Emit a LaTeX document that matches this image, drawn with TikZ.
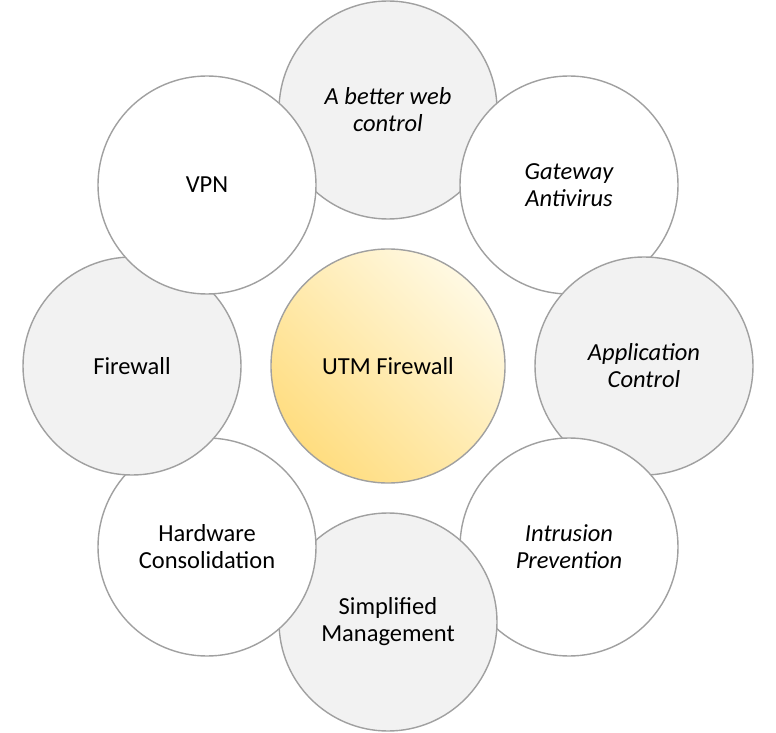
\documentclass[tikz,border=0pt]{standalone}
\usepackage{fontspec}
\setmainfont{Carlito}

\definecolor{bord}{HTML}{A0A0A0}
\definecolor{grisclair}{HTML}{F2F2F2}
\definecolor{jauneclair}{HTML}{FFF9E3}
\definecolor{jaunefonce}{HTML}{FFDD80}

\begin{document}
\begin{tikzpicture}[x=1pt,y=1pt,
  bulle/.style={circle,draw=bord,line width=1.4pt,minimum size=218pt,
    inner sep=0pt,align=center,font=\fontsize{24.5}{27}\selectfont},
  pleine/.style={bulle,fill=grisclair},
  vide/.style={bulle,fill=white}]

\useasboundingbox
(0,0)
rectangle
(776,732);

% Centre
\node[bulle,minimum size=234pt,
  top color=jauneclair,bottom color=jaunefonce,shading angle=-45]
(utm)
at (388,366)
{UTM Firewall};

% Cercles autour (sens horaire)
\node[pleine]
(web)
at (388,622)
{\itshape A better web\\\itshape control};

\node[vide]
(antivirus)
at (569,547)
{\itshape Gateway\\\itshape Antivirus};

\node[pleine]
(appli)
at (644,366)
{\itshape Application\\\itshape Control};

\node[vide]
(intrusion)
at (569,185)
{\itshape Intrusion\\\itshape Prevention};

\node[pleine]
(gestion)
at (388,110)
{Simplified\\Management};

\node[vide]
(materiel)
at (207,185)
{Hardware\\Consolidation};

\node[pleine]
(pare-feu)
at (132,366)
{Firewall};

\node[vide]
(vpn)
at (207,547)
{VPN};

\end{tikzpicture}
\end{document}
